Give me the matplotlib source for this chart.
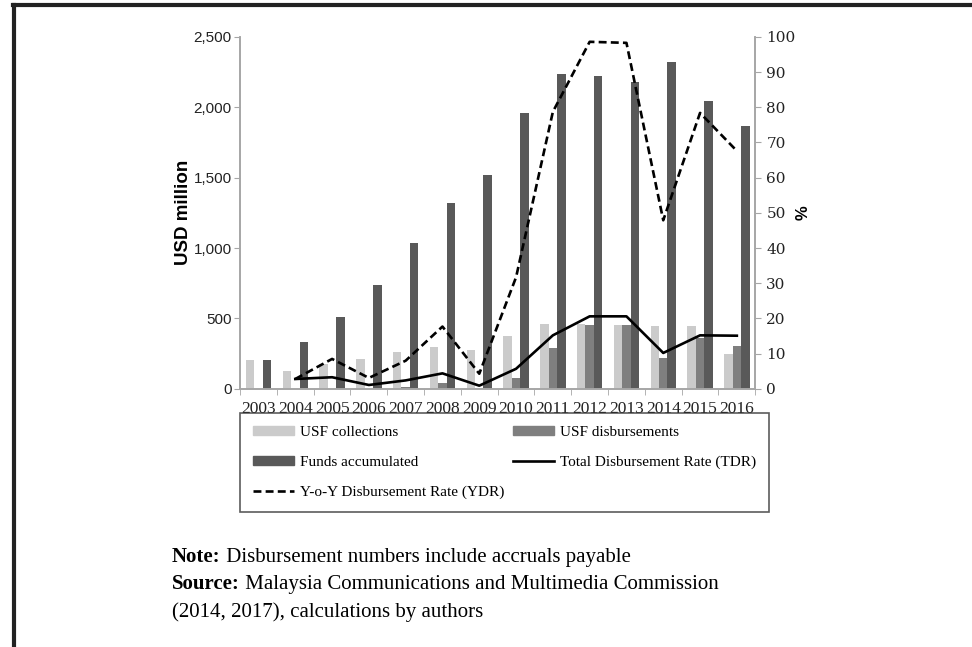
import numpy as np
import matplotlib
matplotlib.use('Agg')
import matplotlib.pyplot as plt
from matplotlib.lines import Line2D
from matplotlib.patches import Patch

# data
years = ['2003', '2004', '2005', '2006', '2007', '2008', '2009',
         '2010', '2011', '2012', '2013', '2014', '2015', '2016']
collections = [206, 130, 180, 213, 260, 298, 277, 372, 461, 458, 456, 449, 449, 248]
disbursements = [0, 0, 0, 0, 12, 40, 3, 78, 291, 456, 456, 218, 360, 307]
funds = [206, 336, 508, 740, 1033, 1322, 1521, 1959, 2236, 2224, 2183, 2325, 2047, 1869]
tdr_years = years[1:]
tdr = [2.8, 3.3, 1.1, 2.4, 4.4, 0.9, 5.7, 15.2, 20.6, 20.6, 10.2, 15.2, 15.1]
ydr = [2.8, 8.5, 3.1, 8.0, 17.7, 4.3, 31.7, 78.7, 98.6, 98.3, 47.9, 78.4, 67.6]

c_light = '#cbcbcb'
c_mid = '#7f7f7f'
c_dark = '#595959'
axis_grey = '#a6a6a6'
dash = (0, (3, 1.6))

fig = plt.figure(figsize=(9.72, 6.47), dpi=100)
ax = fig.add_axes([0.247, 0.399, 0.530, 0.544])
ax2 = ax.twinx()

x = np.arange(len(years))
w = 0.23
ax.bar(x - w, collections, w, color=c_light, zorder=2)
ax.bar(x, disbursements, w, color=c_mid, zorder=2)
ax.bar(x + w, funds, w, color=c_dark, zorder=2)

xl = np.arange(1, len(years))
ax2.plot(xl, tdr, color='black', lw=1.9)
ax2.plot(xl, ydr, color='black', lw=1.9, ls=dash)

ax.set_xlim(-0.5, len(years) - 0.5)
ax.set_ylim(0, 2500)
ax2.set_ylim(0, 100)

ax.set_yticks(np.arange(0, 2501, 500))
ax.set_yticklabels(['{:,}'.format(v) for v in range(0, 2501, 500)],
                   fontsize=11, family='Liberation Sans', color='#222222')
ax2.set_yticks(np.arange(0, 101, 10))
ax2.set_yticklabels([str(v) for v in range(0, 101, 10)],
                    fontsize=11, family='DejaVu Serif', color='#222222')

ax.set_xticks(x)
ax.set_xticklabels(years, fontsize=12.5, family='Liberation Serif', color='#222222')
ax.set_xticks(np.arange(-0.5, len(years)), minor=True)
ax.tick_params(axis='x', which='major', length=0, pad=9)
ax.tick_params(axis='x', which='minor', length=4, color=axis_grey)
ax.tick_params(axis='y', length=4, color=axis_grey, pad=2)
ax2.tick_params(axis='y', length=4, color=axis_grey, pad=4)

for a in (ax, ax2):
    a.spines['top'].set_visible(False)
    for s in ('left', 'right', 'bottom'):
        a.spines[s].set_color(axis_grey)
        a.spines[s].set_linewidth(1.2)

ax.set_ylabel('USD million', fontsize=13.5, fontweight='bold',
              family='Liberation Sans', labelpad=1)
ax2.set_ylabel('%', fontsize=12, fontweight='bold', family='Liberation Sans',
               rotation=90, labelpad=0)

handles = [Patch(color=c_light), Patch(color=c_mid), Patch(color=c_dark),
           Line2D([], [], color='black', lw=1.9),
           Line2D([], [], color='black', lw=1.9, ls=dash)]
labels = ['USF collections', 'USF disbursements', 'Funds accumulated',
          'Total Disbursement Rate (TDR)', 'Y-o-Y Disbursement Rate (YDR)']
# column-major order so rows read left to right like the original
order = [0, 2, 4, 1, 3]
leg = fig.legend([handles[i] for i in order], [labels[i] for i in order],
                 ncol=2, loc='upper left', bbox_to_anchor=(0.247, 0.362),
                 frameon=True, fancybox=False, edgecolor='#333333',
                 prop={'family': 'Liberation Serif', 'size': 11},
                 handlelength=2.65, handleheight=0.5, labelspacing=1.12,
                 borderaxespad=0, handletextpad=0.4, borderpad=0.85,
                 columnspacing=0.6)
leg.get_frame().set_linewidth(1.2)

# note lines: bold lead-in followed by regular text
renderer = fig.canvas.get_renderer()
note_lines = [('Note:', ' Disbursement numbers include accruals payable', 0.131),
              ('Source:', ' Malaysia Communications and Multimedia Commission', 0.089),
              ('', '(2014, 2017), calculations by authors', 0.047)]
for bold, rest, yy in note_lines:
    x0 = 0.177
    if bold:
        t = fig.text(x0, yy, bold, fontsize=15, fontweight='bold', family='Liberation Serif')
        bb = t.get_window_extent(renderer)
        x0 = bb.x1 / fig.bbox.width
    fig.text(x0, yy, rest, fontsize=15, family='Liberation Serif')

# outer frame (top and left edges only)
fig.add_artist(Line2D([0.013, 1.0], [0.992, 0.992], color='#222222', lw=3,
                      transform=fig.transFigure))
fig.add_artist(Line2D([0.0139, 0.0139], [0.0, 0.992], color='#222222', lw=3,
                      transform=fig.transFigure))

fig.savefig('out.png', dpi=100)
